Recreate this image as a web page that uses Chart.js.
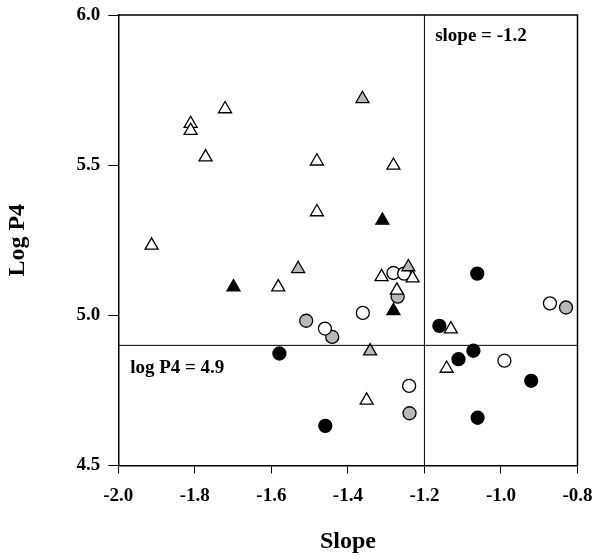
<!DOCTYPE html>
<html>
<head>
<meta charset="utf-8">
<script src="https://cdn.jsdelivr.net/npm/chart.js@4.4.1/dist/chart.umd.min.js"></script>
<style>
  html, body { margin: 0; padding: 0; background: #ffffff; }
  #wrap { width: 594px; height: 560px; }
</style>
</head>
<body>
<div id="wrap"><canvas id="c" width="594" height="560"></canvas></div>
<script>
// ---- data ----
const openTriX   = [-1.721, -1.811, -1.811, -1.772, -1.481, -1.481, -1.913, -1.582, -1.281, -1.312, -1.231, -1.272, -1.351, -1.131, -1.142];
const openTriY   = [ 5.687,  5.638,  5.615,  5.527,  5.513,  5.344,  5.233,  5.094,  5.499,  5.128,  5.124,  5.083,  4.717,  4.954,  4.823];
const filledTriX = [-1.699, -1.310, -1.281];
const filledTriY = [ 5.094,  5.316,  5.015];
const grayTriX   = [-1.362, -1.530, -1.242, -1.342];
const grayTriY   = [ 5.721,  5.155,  5.161,  4.881];
const openCircX  = [-1.460, -1.281, -1.253, -1.361, -1.240, -0.872, -0.991];
const openCircY  = [ 4.956,  5.141,  5.139,  5.008,  4.765,  5.040,  4.849];
const blackCircX = [-1.579, -1.459, -1.062, -1.161, -1.072, -1.111, -0.921, -1.061];
const blackCircY = [ 4.873,  4.632,  5.139,  4.965,  4.882,  4.854,  4.782,  4.659];
const grayCircX  = [-1.509, -1.441, -1.270, -1.239, -0.830];
const grayCircY  = [ 4.982,  4.928,  5.062,  4.674,  5.026];

const xTicks = [-2.0, -1.8, -1.6, -1.4, -1.2, -1.0, -0.8];
const yTicks = [4.5, 5.0, 5.5, 6.0];
const slopeCut = -1.2;
const logP4Cut = 4.9;
const xTitle = 'Slope';
const yTitle = 'Log P4';
const slopeLabel = 'slope = -1.2';
const logP4Label = 'log P4 = 4.9';

const FONT = "'Liberation Serif', 'Times New Roman', serif";
const GRAY = '#b8b8b8';

function pts(xs, ys) { return xs.map((x, i) => ({ x: x, y: ys[i] })); }

const xMin = xTicks[0], xMax = xTicks[xTicks.length - 1];
const yMin = yTicks[0], yMax = yTicks[yTicks.length - 1];

function markerSet(label, xs, ys, style, fill) {
  return {
    label: label,
    data: pts(xs, ys),
    pointStyle: style,
    pointRadius: style === 'triangle' ? 7.5 : 6.5,
    pointBackgroundColor: fill,
    pointBorderColor: '#000000',
    pointBorderWidth: 1.3,
    showLine: false
  };
}

const framePlugin = {
  id: 'frameAndNotes',
  afterDatasetsDraw(chart) {
    const { ctx, chartArea: a, scales } = chart;
    ctx.save();
    ctx.strokeStyle = '#000';
    ctx.lineWidth = 1.5;
    ctx.beginPath();
    ctx.moveTo(a.left, a.top);
    ctx.lineTo(a.right, a.top);
    ctx.lineTo(a.right, a.bottom);
    ctx.stroke();
    ctx.fillStyle = '#000';
    ctx.font = "bold 19px " + FONT;
    ctx.textBaseline = 'alphabetic';
    ctx.textAlign = 'left';
    ctx.fillText(slopeLabel, scales.x.getPixelForValue(-1.172), scales.y.getPixelForValue(5.912));
    ctx.fillText(logP4Label, scales.x.getPixelForValue(-1.969), scales.y.getPixelForValue(4.808));
    ctx.restore();
  }
};

new Chart(document.getElementById('c'), {
  type: 'scatter',
  data: {
    datasets: [
      {
        label: 'slope cut', data: [{ x: slopeCut, y: yMin }, { x: slopeCut, y: yMax }],
        showLine: true, borderColor: '#000', borderWidth: 1, pointRadius: 0, fill: false
      },
      {
        label: 'logP4 cut', data: [{ x: xMin, y: logP4Cut }, { x: xMax, y: logP4Cut }],
        showLine: true, borderColor: '#000', borderWidth: 1, pointRadius: 0, fill: false
      },
      markerSet('open triangles', openTriX, openTriY, 'triangle', '#ffffff'),
      markerSet('filled triangles', filledTriX, filledTriY, 'triangle', '#000000'),
      markerSet('gray triangles', grayTriX, grayTriY, 'triangle', GRAY),
      markerSet('open circles', openCircX, openCircY, 'circle', '#ffffff'),
      markerSet('black circles', blackCircX, blackCircY, 'circle', '#000000'),
      markerSet('gray circles', grayCircX, grayCircY, 'circle', GRAY)
    ]
  },
  options: {
    responsive: false,
    animation: false,
    layout: { padding: { left: 0, top: 15, right: 16.5, bottom: 0 } },
    plugins: { legend: { display: false }, tooltip: { enabled: false } },
    scales: {
      x: {
        type: 'linear', min: xMin, max: xMax,
        afterBuildTicks(scale) { scale.ticks = xTicks.map(v => ({ value: v })); },
        afterFit(scale) { scale.height = 94.5; scale.paddingLeft = 0; scale.paddingRight = 0; },
        ticks: {
          color: '#000', padding: 11, maxRotation: 0, autoSkip: false,
          font: { family: FONT, size: 19, weight: 'bold' },
          callback: v => Number(v).toFixed(1)
        },
        grid: { display: true, drawOnChartArea: false, drawTicks: true, tickLength: 8, color: '#000', tickWidth: 1 },
        border: { display: true, color: '#000', width: 1.5 },
        title: {
          display: true, text: xTitle, color: '#000',
          font: { family: FONT, size: 24, weight: 'bold' },
          padding: { top: 0, bottom: 4 }
        }
      },
      y: {
        type: 'linear', min: yMin, max: yMax,
        afterBuildTicks(scale) { scale.ticks = yTicks.map(v => ({ value: v })); },
        afterFit(scale) { scale.width = 118.3; scale.paddingTop = 0; scale.paddingBottom = 0; },
        ticks: {
          color: '#000', padding: 8, autoSkip: false,
          font: { family: FONT, size: 19, weight: 'bold' },
          callback: v => Number(v).toFixed(1)
        },
        grid: { display: true, drawOnChartArea: false, drawTicks: true, tickLength: 10, color: '#000', tickWidth: 1 },
        border: { display: true, color: '#000', width: 1.5 },
        title: {
          display: true, text: yTitle, color: '#000',
          font: { family: FONT, size: 24, weight: 'bold' },
          padding: { top: 3, bottom: 0 }
        }
      }
    }
  },
  plugins: [framePlugin]
});
</script>
</body>
</html>
